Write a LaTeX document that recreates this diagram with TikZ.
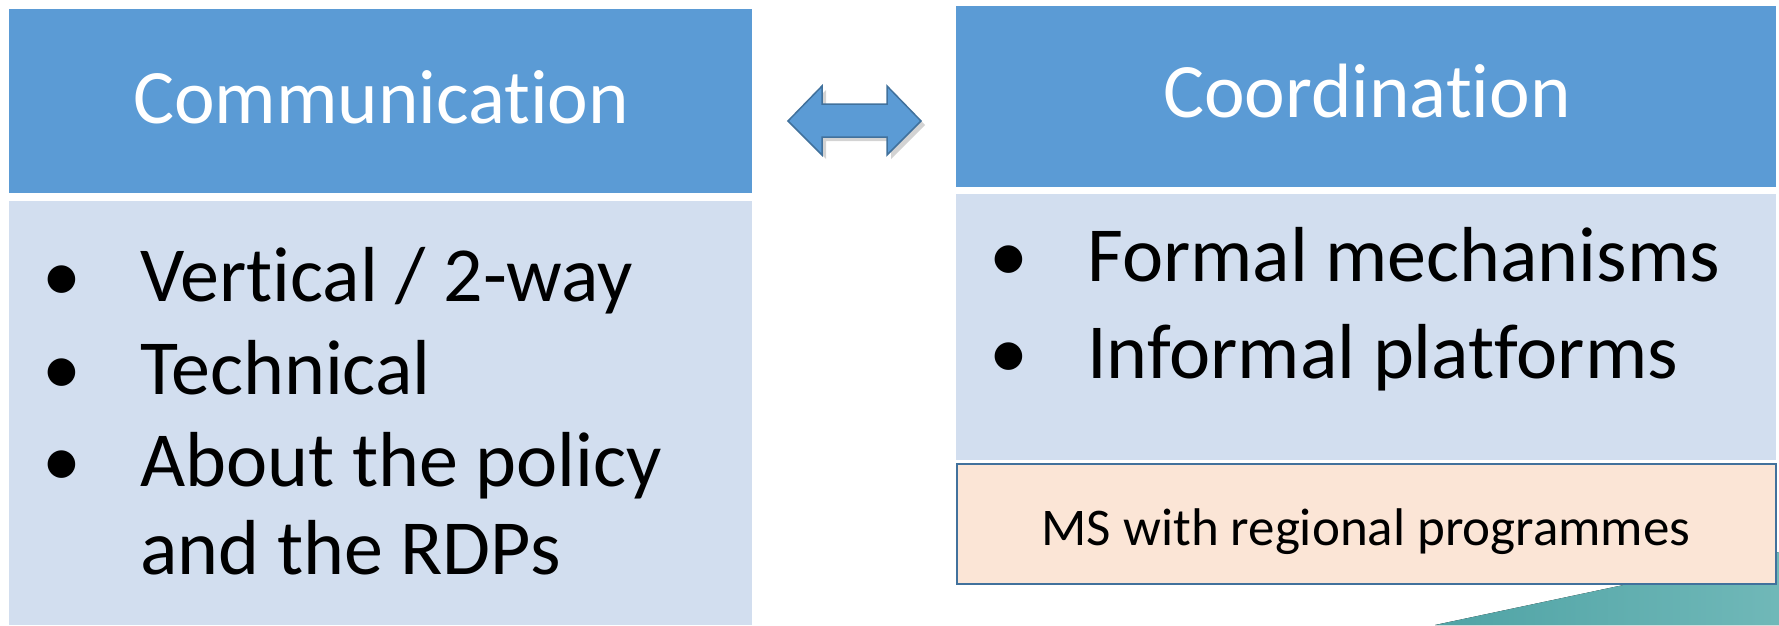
\documentclass[tikz,border=0pt]{standalone}
\usepackage{fontspec}
\setmainfont[Ligatures={NoCommon}]{Carlito}
\usetikzlibrary{shadows}
\definecolor{hdrblue}{HTML}{5B9BD5}
\definecolor{bodyblue}{HTML}{D2DEEF}
\definecolor{pinkfill}{HTML}{FBE5D6}
\definecolor{darkedge}{HTML}{41719C}
\definecolor{tealA}{HTML}{4FA3A5}
\definecolor{tealB}{HTML}{70B8B8}
\tikzset{
  x=1pt, y=-1pt,
  hdr/.style={fill=hdrblue, draw=none},
  bodybox/.style={fill=bodyblue, draw=none},
  hdrtext/.style={text=white, font=\fontsize{77}{80}\selectfont, anchor=base, inner sep=0},
  itemtext/.style={text=black, font=\fontsize{78}{84}\selectfont, anchor=base west, inner sep=0},
  bul/.style={text=black, font=\fontsize{78}{84}\selectfont, anchor=base west, inner sep=0},
  smalltext/.style={text=black, font=\fontsize{53}{56}\selectfont, anchor=base, inner sep=0},
}
\begin{document}
\begin{tikzpicture}
\useasboundingbox (0,0) rectangle (1779,625);
% teal background swoosh
\fill[left color=tealA, right color=tealB] (1435,625) -- (1779,552) -- (1779,625) -- cycle;
% left column
\path[hdr] (9,9) rectangle (752,193);
\node[hdrtext] (commtitle) at (381,123) {Communication};
\path[bodybox] (9,201) rectangle (752,625);
\node[bul] (lb1) at (42,301) {•};
\node[itemtext] (l1) at (140,301) {Vertical / 2-way};
\node[bul] (lb2) at (42,394) {•};
\node[itemtext] (l2) at (140,394) {Technical};
\node[bul] (lb3) at (42,486) {•};
\node[itemtext] (l3) at (140,486) {About the policy};
\node[itemtext] (l4) at (140,574) {and the RDPs};
% right column
\path[hdr] (956,6) rectangle (1776,187);
\node[hdrtext] (coordtitle) at (1367,117) {Coordination};
\path[bodybox] (956,194) rectangle (1776,460);
\node[bul] (rb1) at (989,281) {•};
\node[itemtext] (r1) at (1087,281) {Formal mechanisms};
\node[bul] (rb2) at (989,378) {•};
\node[itemtext] (r2) at (1087,378) {Informal platforms};
\path[fill=pinkfill, draw=darkedge, line width=2pt] (957,464) rectangle (1776,584);
\node[smalltext] (ms) at (1366,545) {MS with regional programmes};
% double arrow
\path[fill=hdrblue, draw=darkedge, line width=1.5pt, line join=miter,
      drop shadow={opacity=0.35, shadow xshift=4pt, shadow yshift=-4pt}]
  (788,121) -- (822,86) -- (822,104) -- (887,104) -- (887,86) -- (921,121)
  -- (887,155) -- (887,137) -- (822,137) -- (822,155) -- cycle;
\end{tikzpicture}
\end{document}
